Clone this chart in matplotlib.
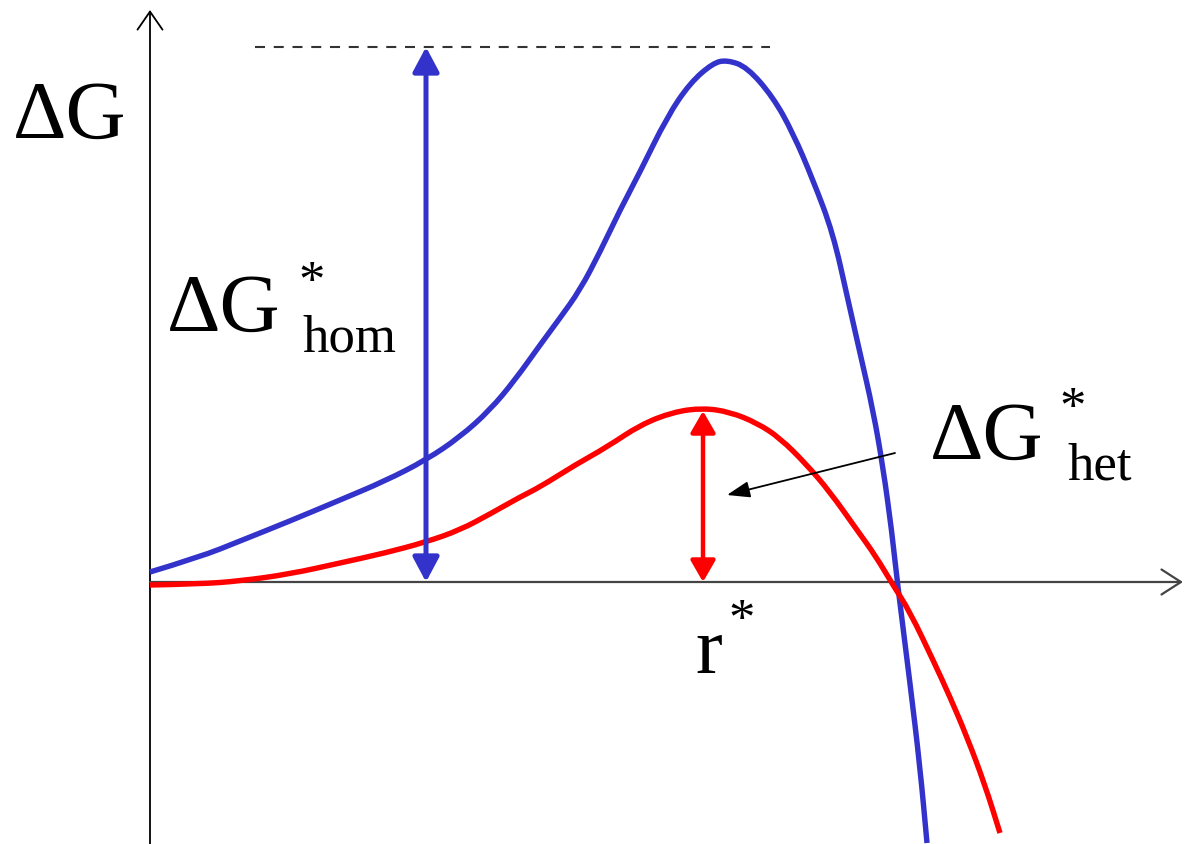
import matplotlib.pyplot as plt
from matplotlib.patches import FancyArrowPatch, PathPatch
from matplotlib.path import Path

# curve readings, origin at the axis crossing (r along x, dG up)
hom_r = [0, 50, 90, 140, 190, 235, 276, 310, 340, 365, 390, 410, 430, 450, 470, 490,
         517, 540, 563, 577, 597, 623, 643, 663, 683, 698, 710, 723, 733, 742, 747,
         760, 770, 777]
hom_g = [10, 25, 41, 61, 82, 101, 122, 145, 172, 202, 237, 264, 292, 330, 372, 410,
         465, 499, 519, 522, 515, 485, 449, 402, 349, 282, 229, 172, 115, 49, 2,
         -101, -185, -261]

het_r = [0, 50, 90, 140, 190, 235, 276, 310, 340, 370, 390, 425, 457, 490, 523, 553,
         580, 607, 630, 657, 680, 707, 725, 743, 760, 783, 800, 817, 835, 850]
het_g = [-3, -2, 1, 8, 19, 29, 40, 52, 68, 85, 95, 117, 135, 157, 170, 174,
         170, 159, 144, 117, 90, 52, 27, -3, -30, -78, -115, -155, -203, -251]

hom_x = 276      # where the hom barrier is measured
hom_top = 535    # dashed reference level
het_x = 553      # r*
het_top = 171

BLUE = "#3333cc"
RED = "#ff0000"
FONT = ["Liberation Serif", "DejaVu Serif"]

fig = plt.figure(figsize=(11.85, 8.44), dpi=100)
ax = fig.add_axes([0, 0, 1, 1])
ax.set_xlim(-150, 1035)
ax.set_ylim(-262, 582)
ax.axis("off")


def arrow(p0, p1, style, color, lw, **kw):
    a = FancyArrowPatch(p0, p1, arrowstyle=style, color=color, lw=lw,
                        shrinkA=0, shrinkB=0, mutation_scale=1, **kw)
    ax.add_patch(a)


def curve(xs, ys, color):
    # read points used as quadratic bezier controls so the line comes out smooth
    pts = list(zip(xs, ys))
    verts = [pts[0]]
    codes = [Path.MOVETO]
    for i in range(1, len(pts) - 1):
        nxt = pts[i + 1]
        mid = ((pts[i][0] + nxt[0]) / 2, (pts[i][1] + nxt[1]) / 2)
        verts += [pts[i], mid]
        codes += [Path.CURVE3, Path.CURVE3]
    verts.append(pts[-1])
    codes.append(Path.LINETO)
    ax.add_patch(PathPatch(Path(verts, codes), fill=False, edgecolor=color, lw=3.9,
                           capstyle="butt", joinstyle="round"))


# axes
arrow((0, -262), (0, 572), "->,head_length=13,head_width=9", "black", 1.3)
arrow((0, 0), (1033, 0), "->,head_length=14,head_width=9", "#444444", 1.6)

# curves
curve(hom_r, hom_g, BLUE)
curve(het_r, het_g, RED)

# dashed reference line at the hom maximum
ax.plot([105, 620], [hom_top, hom_top], color="#333333", lw=1.5, dashes=(4.8, 4.2))

# barrier arrows
arrow((hom_x, 0), (hom_x, hom_top), "<|-|>,head_length=15,head_width=8", BLUE, 3.6)
arrow((het_x, 0), (het_x, het_top), "<|-|>,head_length=13,head_width=7.5", RED, 3.2)
arrow((745, 129), (577, 87), "-|>,head_length=14,head_width=5", "black", 1.3)

# labels
ax.text(-137, 444, "ΔG", family=FONT, fontsize=60, va="baseline", ha="left")

ax.text(17, 251, "ΔG", family=FONT, fontsize=60, va="baseline", ha="left")
ax.text(162, 285, "*", family=FONT, fontsize=38, va="baseline", ha="center")
ax.text(152, 230, "hom", family=FONT, fontsize=38, va="baseline", ha="left")

ax.text(780, 123, "ΔG", family=FONT, fontsize=60, va="baseline", ha="left")
ax.text(923, 159, "*", family=FONT, fontsize=38, va="baseline", ha="center")
ax.text(917, 102, "het", family=FONT, fontsize=38, va="baseline", ha="left")

ax.text(545, -91, "r", family=FONT, fontsize=58, va="baseline", ha="left")
ax.text(592, -53, "*", family=FONT, fontsize=38, va="baseline", ha="center")

fig.savefig("out.png", dpi=100)
plt.close(fig)
